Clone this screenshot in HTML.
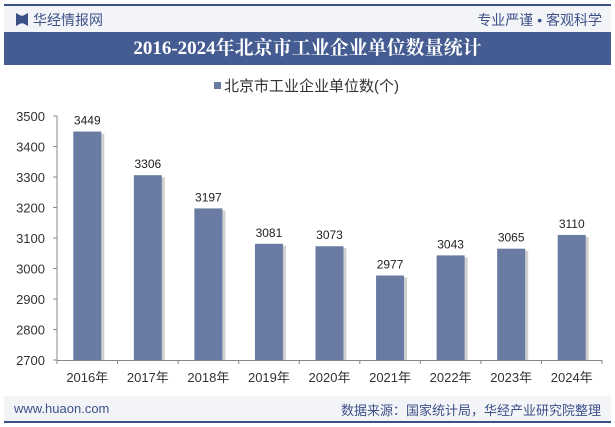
<!DOCTYPE html>
<html><head><meta charset="utf-8"><style>
body{margin:0;width:615px;height:427px;background:#fff;font-family:"Liberation Sans","Noto Sans CJK SC",sans-serif;overflow:hidden;position:relative}
.abs{position:absolute}
</style></head><body>
<div class="abs" style="left:4px;top:4px;width:607px;height:2px;background:#3d5189"></div>
<div class="abs" style="left:4px;top:6px;width:607px;height:26px;background:#f3f4f8"></div>
<div class="abs" style="left:16px;top:13px;width:12px;height:13px;background:#3d5189;clip-path:polygon(0 0,40% 20%,60% 20%,100% 0,100% 100%,60% 80%,40% 80%,0 100%)"></div>
<div class="abs" style="left:33px;top:10px;font-size:14px;color:#3d5189">华经情报网</div>
<div class="abs" style="right:13px;top:10px;font-size:14px;color:#3d5189;white-space:nowrap">专业严谨 • 客观科学</div>
<div class="abs" style="left:4px;top:32px;width:607px;height:33px;background:#445c92;color:#fff;font-family:'Liberation Serif','Noto Serif CJK SC',serif;font-weight:bold;font-size:19px;text-align:center;line-height:33px" >2016-2024年北京市工业企业单位数量统计</div>
<div class="abs" style="left:214px;top:75px;font-size:15px;color:#333"><span style="display:inline-block;width:7px;height:7px;background:#6a7ba3;margin-right:3px;vertical-align:2px"></span>北京市工业企业单位数(个)</div>
<svg class="abs" style="left:0;top:0" width="615" height="427" id="chart"></svg>
<div class="abs" style="left:4px;top:396px;width:607px;height:25px;background:#f3f4f8"></div>
<div class="abs" style="left:14px;top:401px;font-size:13px;color:#3d5189">www.huaon.com</div>
<div class="abs" style="right:14px;top:400px;font-size:13px;color:#3d5189">数据来源：国家统计局，华经产业研究院整理</div>
<div class="abs" style="left:4px;top:421px;width:607px;height:2px;background:#3d5189"></div>
<script>
const categories=["2016年","2017年","2018年","2019年","2020年","2021年","2022年","2023年","2024年"];
const values=[3449,3306,3197,3081,3073,2977,3043,3065,3110];
const ticks=[2700,2800,2900,3000,3100,3200,3300,3400,3500];
const svg=document.getElementById('chart');const NS='http://www.w3.org/2000/svg';
const x0=57,x1=602,yMin=2700,yMax=3500,yTop=116,yBot=360;
const y=v=>yBot-(v-yMin)/(yMax-yMin)*(yBot-yTop);
const bw=(x1-x0)/categories.length;
const xc=i=>x0+bw*(i+0.5);
function mk(t,a){const e=document.createElementNS(NS,t);for(const k in a)e.setAttribute(k,a[k]);svg.appendChild(e);return e;}
const ax=mk('line',{x1:x0,y1:yTop,x2:x0,y2:yBot,stroke:'#888'});

const bx=mk('line',{x1:x0,y1:yBot+.5,x2:x1,y2:yBot+.5,stroke:'#888'});

ticks.forEach(t=>{mk('line',{x1:x0-4,y1:y(t),x2:x0,y2:y(t),stroke:'#888'});
const tx=mk('text',{x:x0-12,y:y(t)+5,'text-anchor':'end','font-size':13,fill:'#333'});tx.textContent=t;
});
for(let i=0;i<=categories.length;i++)mk('line',{x1:x0+bw*i,y1:yBot,x2:x0+bw*i,y2:yBot+4,stroke:'#888'});
categories.forEach((c,i)=>{
const sh=mk('rect',{x:xc(i)-14+3,y:y(values[i])+2,width:28,height:yBot-y(values[i])-2,fill:'#d0d0d0'});

const r=mk('rect',{x:xc(i)-14,y:y(values[i]),width:28,height:yBot-y(values[i]),fill:'#6a7ba3'});

const l=mk('text',{x:xc(i),y:y(values[i])-7,'text-anchor':'middle','font-size':12,fill:'#222'});l.textContent=values[i];

const xl=mk('text',{x:xc(i),y:yBot+22,'text-anchor':'middle','font-size':13,fill:'#333'});xl.textContent=c;

});
</script>
</body></html>
